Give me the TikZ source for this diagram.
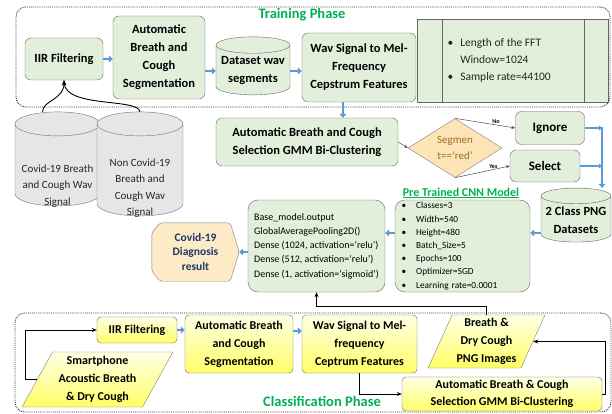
\documentclass[tikz,border=0pt]{standalone}
\usepackage{fontspec}
\setmainfont{Carlito}
\usetikzlibrary{shapes.geometric,arrows.meta,backgrounds}
\definecolor{boxgreen}{RGB}{226,239,218}
\definecolor{cylgrey}{RGB}{231,230,230}
\definecolor{decorange}{RGB}{252,228,182}
\definecolor{diagorange}{RGB}{253,235,200}
\definecolor{arrowblue}{RGB}{91,155,213}
\definecolor{phasegreen}{RGB}{0,176,80}
\definecolor{navytext}{RGB}{31,56,100}
\definecolor{goldtext}{RGB}{150,110,30}
\tikzstyle{rec} = [rectangle,draw=black!60,rounded corners=6pt,align=center,inner sep=2pt,font=\fontsize{12.5}{18}\selectfont\bfseries]

\begin{document}
\begin{tikzpicture}
		[x=1pt,y=-1pt,
		greenbox/.style={rec,fill=boxgreen},
		yellowbox/.style={rec,top color=yellow!10,bottom color=yellow!60,rounded corners=4pt,font=\fontsize{12}{18}\selectfont\bfseries},
		slantbox/.style={trapezium,trapezium stretches=true,draw=black!50,top color=yellow!10,bottom color=yellow!60,align=center,inner sep=1pt,font=\fontsize{12}{18}\selectfont\bfseries},
		dbcyl/.style={cylinder,shape border rotate=90,aspect=0.25,draw=black!60,fill=boxgreen,align=center,inner sep=1pt,font=\fontsize{12.5}{18}\selectfont\bfseries},
		greycyl/.style={cylinder,shape border rotate=90,aspect=0.3,draw=black!55,fill=cylgrey,inner sep=0pt},
		cyltext/.style={align=center,text=black!85,font=\fontsize{11}{16.5}\selectfont},
		decision/.style={diamond,draw=black!50,fill=decorange,align=center,inner sep=0pt,text=goldtext,font=\fontsize{11}{16}\selectfont},
		phaseframe/.style={draw=black!80,densely dotted,line width=0.9pt,rounded corners=10pt},
		phasetitle/.style={text=phasegreen,font=\fontsize{14.5}{16}\selectfont\bfseries},
		flowarr/.style={draw=black,line width=0.9pt,-{Stealth[length=5pt,width=4pt]}},
		flowthin/.style={draw=black!70,line width=0.5pt,-{Stealth[length=4pt,width=3pt]}},
		bluearr/.style={draw=arrowblue,line width=2.5pt,-{Triangle[length=4pt,width=7pt]}},
		yesno/.style={font=\fontsize{6}{7}\selectfont\bfseries,inner sep=1pt}
		]
		\useasboundingbox (0,0) rectangle (612,414);

		\node[phaseframe,minimum width=594,minimum height=100] (trainframe) at (313,57) {};
		\node[phasetitle] (traintitle) at (302,15) {Training Phase};
		\node[greenbox,minimum width=78,minimum height=42] (iir) at (64,59) {IIR Filtering};
		\node[greenbox,minimum width=92,minimum height=83] (seg) at (159,57.5) {Automatic\\Breath and\\Cough\\Segmentation};
		\node[dbcyl,minimum width=74,minimum height=58] (dataset) at (253,71) {Dataset wav\\segments};
		\node[greenbox,minimum width=114,minimum height=69] (wav) at (359,67.5) {Wav Signal to Mel-\\Frequency\\Cepstrum Features};
		\node[rectangle,draw=black!60,fill=boxgreen,minimum width=191,minimum height=83] (fft) at (512.5,60.5) {};
		\draw[black!60] ([xshift=25pt]fft.north west) -- ([xshift=25pt]fft.south west);
		\draw[black!60] ([xshift=-24pt]fft.north east) -- ([xshift=-24pt]fft.south east);
		\node[anchor=west,font=\fontsize{11.5}{17}\selectfont,text=black!85] (fftlist) at (444,60.5)
			{\begin{tabular}{@{}l@{\hspace{7pt}}l@{}}\textbullet & Length of the FFT\\ & Window=1024\\ \textbullet & Sample rate=44100\end{tabular}};

		\draw[bluearr] (iir.east) -- (iir.east -| seg.west);
		\draw[bluearr] (seg.east |- dataset.west) -- (dataset.west);
		\draw[bluearr] (dataset.east) -- (dataset.east -| wav.west);

		\node[greycyl,minimum width=85,minimum height=94] (covid) at (57.5,165) {\rule{80pt}{0pt}};
		\node[cyltext] (covidtxt) at (57.5,186) {Covid-19 Breath\\and Cough Wav\\Signal};
		\node[greycyl,minimum width=86,minimum height=104] (noncovid) at (140,170) {\rule{80pt}{0pt}};
		\node[cyltext] (noncovidtxt) at (140,188) {Non Covid-19\\Breath and\\Cough Wav\\Signal};
		\draw[flowarr] ([xshift=-15pt]covid.north) .. controls (43,100) and (64,100) .. (iir.south);
		\draw[flowarr] (noncovid.north) .. controls (138,98) and (66,108) .. (iir.south);

		\node[greenbox,minimum width=182,minimum height=48] (sel) at (307,142) {Automatic Breath and Cough\\Selection GMM Bi-Clustering};
		\draw[bluearr] ([xshift=-16pt]wav.south) -- ([xshift=-16pt]wav.south |- sel.north);
		\node[decision,minimum width=94,minimum height=57] (dec) at (455,148) {Segmen\\t==`red'};
		\node[greenbox,minimum width=69,minimum height=33,font=\fontsize{13}{15}\selectfont\bfseries] (ign) at (550,128) {Ignore};
		\node[greenbox,minimum width=70,minimum height=32,font=\fontsize{13}{15}\selectfont\bfseries] (pick) at (545,166) {Select};
		\draw[flowthin] (sel.east) -- (dec.west);
		\draw[flowthin] (dec.north) -- node[yesno,above,pos=0.68] {No} (ign.west);
		\draw[flowthin] (dec.south) -- node[yesno,above,pos=0.7] {Yes} (pick.west);

		\node[dbcyl,minimum width=70,minimum height=54] (png) at (576,220) {2 Class PNG\\Datasets};
		\coordinate (bus) at (602,128);
		\draw[bluearr,-{Triangle[length=3pt,width=5pt]}] (ign.east) -- (ign.east -| bus);
		\draw[bluearr,-{Triangle[length=3pt,width=5pt]}] (pick.east) -- (pick.east -| bus);
		\draw[bluearr] ([yshift=1.2pt]bus) -- (bus |- png.north);

		\node[phasetitle,font=\fontsize{12}{14}\selectfont\bfseries] (cnntitle) at (461,193) {\underline{Pre Trained CNN Model}};
		\node[greenbox,rounded corners=10pt,minimum width=135,minimum height=92,text width=122,align=left,font=\fontsize{9.3}{13.2}\selectfont] (cnn) at (462.5,246)
			{\textbullet\hspace{10pt}Classes=3\\\textbullet\hspace{10pt}Width=540\\\textbullet\hspace{10pt}Height=480\\\textbullet\hspace{10pt}Batch\_Size=5\\\textbullet\hspace{10pt}Epochs=100\\\textbullet\hspace{10pt}Optimizer=SGD\\\textbullet\hspace{10pt}Learning rate=0.0001};
		\node[greenbox,rounded corners=10pt,minimum width=137,minimum height=92,align=left,font=\fontsize{10}{14.2}\selectfont] (base) at (316.5,246)
			{Base\_model.output\\GlobalAveragePooling2D()\\Dense (1024, activation=`relu')\\Dense (512, activation=`relu')\\Dense (1, activation=`sigmoid')};
		\node[align=center,inner sep=0pt,minimum width=87,minimum height=58,text=navytext,font=\fontsize{11.5}{14.5}\selectfont\bfseries] (diag) at (195.5,252) {Covid-19\\Diagnosis\\result};
		\begin{pgfonlayer}{background}
		\draw[draw=black!50,fill=diagorange,rounded corners=2pt] ([xshift=8pt]diag.north west) -- ([xshift=-9pt]diag.north east) -- (diag.east) -- ([xshift=-9pt]diag.south east)
			-- ([xshift=8pt]diag.south west) -- ([yshift=10pt]diag.south west) -- ([yshift=-10pt]diag.north west) -- cycle;
		\end{pgfonlayer}
		\draw[bluearr] ([yshift=-13pt]png.west) -- ([yshift=-13pt]png.west -| cnn.east);
		\draw[bluearr] ([yshift=13pt]cnn.west) -- ([yshift=13pt]base.east);
		\draw[bluearr] (base.west |- diag.east) -- (diag.east);

		\node[phaseframe,minimum width=596,minimum height=99] (classframe) at (313,362.5) {};
		\node[yellowbox,minimum width=80,minimum height=26] (iir2) at (137,330) {IIR Filtering};
		\node[yellowbox,minimum width=108,minimum height=58] (seg2) at (239,344) {Automatic Breath\\and Cough\\Segmentation};
		\node[yellowbox,minimum width=115,minimum height=58] (wav2) at (359.5,344) {Wav Signal to Mel-\\frequency\\Ceptrum Features};
		\node[slantbox,minimum width=117,minimum height=53,trapezium left angle=66,trapezium right angle=114] (pngimg) at (486.5,341.5) {Breath \&\\Dry Cough\\PNG Images};
		\node[slantbox,minimum width=151,minimum height=55,trapezium left angle=61,trapezium right angle=119] (smart) at (97.5,379.5) {Smartphone\\Acoustic Breath\\\& Dry Cough};
		\node[yellowbox,minimum width=200,minimum height=34,font=\fontsize{12}{17}\selectfont\bfseries] (sel2) at (502,394) {Automatic Breath \& Cough\\Selection GMM Bi-Clustering};
		\node[phasetitle] (classtitle) at (322,401) {Classification Phase};

		\draw[bluearr] (iir2.east) -- (iir2.east -| seg2.west);
		\draw[bluearr] ([yshift=13pt]seg2.east) -- ([yshift=13pt]wav2.west);
		\draw[flowarr] (smart.west) -- ++(-12,0) |- (iir2.west);
		\draw[flowarr] (wav2.south) |- (sel2.west);
		\draw[flowarr] (sel2.east) -- ++(3,0) |- (pngimg.east);
		\draw[flowarr] (pngimg.north) -- ++(0,-8) -| (base.south);
\end{tikzpicture}
\end{document}
